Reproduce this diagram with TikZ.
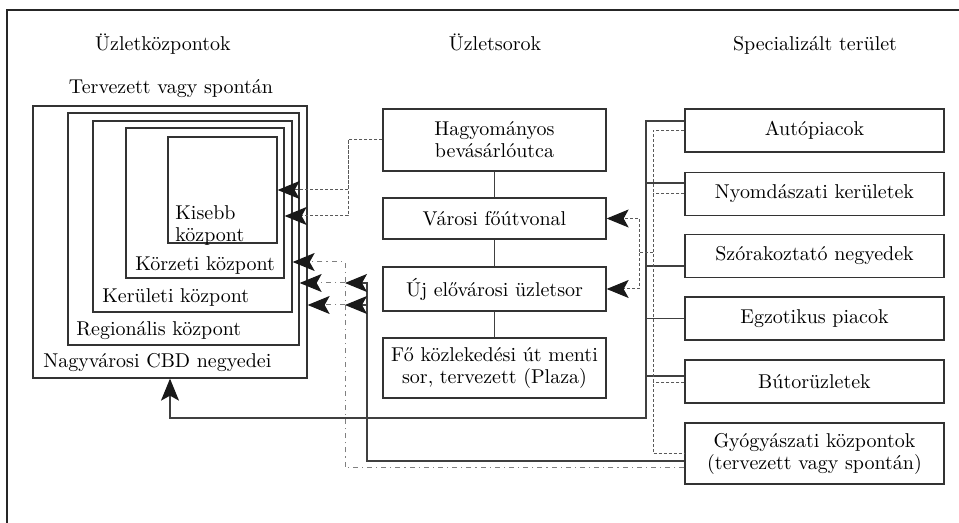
\documentclass[tikz,border=0pt]{standalone}
\usepackage{fontspec}
\usepackage{tikz}
\usetikzlibrary{arrows.meta,fit}

\tikzset{
	frame/.style={draw=black!85,line width=0.7pt},
	nest/.style={draw=black!80,line width=0.65pt,inner sep=0pt},
	box/.style={draw=black!80,line width=0.65pt,align=center,inner sep=1pt},
	cbox/.style={box,minimum width=111.5pt},
	sbox/.style={box,minimum width=129.5pt,minimum height=21.5pt},
	lbl/.style={inner sep=0pt,anchor=base west},
	title/.style={inner sep=0pt,anchor=base},
	link/.style={draw=black!75,line width=0.55pt},
	dashln/.style={draw=black!65,line width=0.5pt,dash pattern=on 1.5pt off 1pt},
	dotdash/.style={draw=black!50,line width=0.5pt,dash pattern=on 2.5pt off 2pt on 0.6pt off 2pt},
	arr/.style={-{Stealth[length=11pt,width=9pt,inset=2.5pt,black!90]}},
}

\begin{document}
\begin{tikzpicture}[x=0.5pt,y=-0.5pt,font=\fontsize{10}{11}\selectfont]
	%\draw[help lines] (0,0) grid[step=50] (959,523);
	\useasboundingbox (0,0) rectangle (959,523);
	\draw[frame] (7,523) -- (7,10) -- (959,10);

	% column heads
	\node[title] (h1) at (163,51) {Üzletközpontok};
	\node[title] (h2) at (495,51) {Üzletsorok};
	\node[title] (h3) at (815,51) {Specializált terület};
	\node[title] (tv) at (171,94) {Tervezett vagy spontán};

	% nested centres
	\node[nest,fit={(33,106) (307,378)}] (cbd) {};
	\node[nest,fit={(68,113) (299,345)}] (reg) {};
	\node[nest,fit={(93,121) (292,312)}] (ker) {};
	\node[nest,fit={(126,128) (284,278)}] (kor) {};
	\node[nest,fit={(168,137) (277,243)}] (kis) {};

	\node[inner sep=0pt,anchor=north west,align=left] (kisl) at (175,205) {Kisebb\\központ};
	\node[lbl] (korl) at (135,271) {Körzeti központ};
	\node[lbl] (kerl) at (102,303) {Kerületi központ};
	\node[lbl] (regl) at (76,336) {Regionális központ};
	\node[lbl] (cbdl) at (43,368) {Nagyvárosi CBD negyedei};

	% shopping streets
	\node[cbox,minimum height=31pt] (hag) at (494.5,140) {Hagyományos\\bevásárlóutca};
	\node[cbox,minimum height=20.5pt] (var) at (494.5,218.5) {Városi főútvonal};
	\node[cbox,minimum height=22pt] (uj) at (494.5,289) {Új elővárosi üzletsor};
	\node[cbox,minimum height=30pt] (fo) at (494.5,368) {Fő közlekedési út menti\\sor, tervezett (Plaza)};
	\draw[link] (hag) -- (var);
	\draw[link] (var) -- (uj);
	\draw[link] (uj) -- (fo);

	% specialised areas
	\node[sbox] (auto) at (814.5,130.5) {Autópiacok};
	\node[sbox] (nyom) at (814.5,194) {Nyomdászati kerületek};
	\node[sbox] (szor) at (814.5,256) {Szórakoztató negyedek};
	\node[sbox] (egz) at (814.5,318.5) {Egzotikus piacok};
	\node[sbox] (butor) at (814.5,381.5) {Bútorüzletek};
	\node[sbox,minimum height=30.5pt] (gyogy) at (814.5,453.5) {Gyógyászati központok\\(tervezett vagy spontán)};

	\coordinate (sb) at (646,0);
	\coordinate (db) at (653,0);
	\coordinate (bot) at (646,418);

	% solid bus down to the CBD
	\draw[link,arr] ([yshift=4.75pt]auto.west) -| (bot) -| (cbd.south);
	\foreach \n/\s in {nyom/5.5,szor/-5,egz/0,butor/2.75}
		\draw[link] ([yshift=\s pt]\n.west) -- ([yshift=\s pt]\n.west -| sb);

	% dashed bus
	\draw[dashln] (auto.west) -| (db |- gyogy.west) -- (gyogy.west);
	\draw[dashln] (nyom.west) -- (nyom.west -| db);
	\draw[dashln] ([yshift=-0.75pt]butor.west) -- ([yshift=-0.75pt]butor.west -| db);

	\coordinate (br) at (639,253);
	\draw[dashln,arr] (br -| db) -- (br) |- (var.east);
	\draw[dashln,arr] (br) |- (uj.east);

	% traditional street into the small centres
	\coordinate (hb) at (348,216);
	\draw[dashln,arr] (hag.west) -| (hb) -- (hb -| kor.east);
	\draw[dashln,arr] (hag.west -| hb) |- (kis.east);

	% medical centres
	\coordinate (k3) at (345,262);
	\coordinate (k2) at (345,283);
	\coordinate (k1) at (345,305);
	\coordinate (s2) at (367,283);
	\coordinate (s1) at (367,305);
	\draw[dotdash,arr] ([yshift=-7.25pt]gyogy.west) -| (k3) -- (k3 -| ker.east);
	\draw[dotdash,arr] (k2) -- (k2 -| reg.east);
	\draw[dotdash,arr] (k1) -- (k1 -| cbd.east);
	\draw[link,arr] ([yshift=-3.75pt]gyogy.west) -| (s2) -- (k2);
	\draw[link,arr] (s1) -- (k1);
\end{tikzpicture}
\end{document}
